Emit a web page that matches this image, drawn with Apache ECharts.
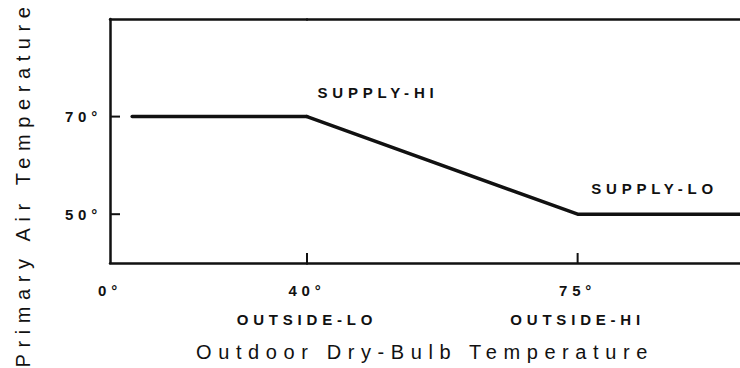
<!DOCTYPE html>
<html>
<head>
<meta charset="utf-8">
<script src="https://cdn.jsdelivr.net/npm/echarts@6/dist/echarts.min.js"></script>
<style>
  html, body { margin: 0; padding: 0; background: #fff; }
  #chart { width: 740px; height: 368px; }
</style>
</head>
<body>
<div id="chart"></div>
<script>
// Reset schedule: primary air supply temperature vs outdoor dry-bulb temperature
const lowRangeTicks = [0, 40];        // outdoor °F, left segment of the axis
const highRangeTicks = [75];          // outdoor °F, right segment of the axis
const supplyTicks = [50, 70];         // primary air °F
const outdoorNames = { 40: 'OUTSIDE-LO', 75: 'OUTSIDE-HI' };

// Supply held at its high limit while outdoor air is cold
const heldHigh = [[4.5, 70], [40, 70]];
// Linear reset between the outdoor limits, then held at the low limit
const resetRamp = [[40, 70], [75, 50], [96, 50]];
const resetNames = ['SUPPLY-HI', 'SUPPLY-LO'];

// Axis extents (the outdoor axis is drawn in two differently scaled segments)
const X_LOW = [0, 40];
const X_HIGH = [40, 96];
const Y_RANGE = [40, 90];

const INK = '#111';
const labelFont = { fontFamily: 'Liberation Sans, Arial, sans-serif', fontWeight: 'bold', fontSize: 15, color: INK };
const axisLineStyle = { show: true, lineStyle: { color: INK, width: 2.5 } };
const TICK_LEN = 10;

function degLabel(v) {
  const n = outdoorNames[v];
  return v + '°' + (n ? '\n' + n : '');
}

// Inward tick marks drawn through the axis scales; upward on the outdoor axis, rightward on the supply axis
function tickSeries(axisIndex, points, upward) {
  return {
    type: 'custom', coordinateSystem: 'cartesian2d',
    xAxisIndex: axisIndex, yAxisIndex: axisIndex, silent: true, clip: false, z: 5,
    data: points,
    renderItem: function (params, api) {
      const p = api.coord([api.value(0), api.value(1)]);
      return {
        type: 'line',
        shape: upward
          ? { x1: p[0], y1: p[1], x2: p[0], y2: p[1] - TICK_LEN }
          : { x1: p[0], y1: p[1], x2: p[0] + TICK_LEN, y2: p[1] },
        style: { stroke: INK, lineWidth: 2 }
      };
    }
  };
}

const chart = echarts.init(document.getElementById('chart'), null, { renderer: 'svg' });

chart.setOption({
  animation: false,
  grid: [
    { left: 110, top: 19, width: 197, bottom: 105 },
    { left: 307, top: 19, right: 0, bottom: 105 }
  ],
  xAxis: [
    {
      gridIndex: 0, type: 'value', min: X_LOW[0], max: X_LOW[1], position: 'bottom',
      axisLine: axisLineStyle, splitLine: { show: false }, axisTick: { show: false },
      axisLabel: Object.assign({ customValues: lowRangeTicks, margin: 13, lineHeight: 29, formatter: degLabel }, labelFont)
    },
    {
      gridIndex: 1, type: 'value', min: X_HIGH[0], max: X_HIGH[1], position: 'bottom',
      axisLine: axisLineStyle, splitLine: { show: false }, axisTick: { show: false },
      axisLabel: Object.assign({ customValues: highRangeTicks, margin: 13, lineHeight: 29, formatter: degLabel }, labelFont)
    },
    {
      gridIndex: 0, type: 'value', min: X_LOW[0], max: X_LOW[1], position: 'top',
      axisLine: axisLineStyle, axisTick: { show: false }, axisLabel: { show: false }, splitLine: { show: false }
    },
    {
      gridIndex: 1, type: 'value', min: X_HIGH[0], max: X_HIGH[1], position: 'top',
      axisLine: axisLineStyle, axisTick: { show: false }, axisLabel: { show: false }, splitLine: { show: false }
    }
  ],
  yAxis: [
    {
      gridIndex: 0, type: 'value', min: Y_RANGE[0], max: Y_RANGE[1],
      axisLine: axisLineStyle, splitLine: { show: false }, axisTick: { show: false },
      axisLabel: Object.assign({ customValues: supplyTicks, margin: 8, formatter: v => v + '°' }, labelFont)
    },
    {
      gridIndex: 1, type: 'value', min: Y_RANGE[0], max: Y_RANGE[1], show: false
    }
  ],
  series: [
    {
      type: 'line', xAxisIndex: 0, yAxisIndex: 0, data: heldHigh,
      symbol: 'none', silent: true,
      lineStyle: { color: INK, width: 3.5, cap: 'round', join: 'round' }
    },
    {
      type: 'line', xAxisIndex: 1, yAxisIndex: 1, silent: true,
      symbol: 'circle', symbolSize: 2, showSymbol: true,
      itemStyle: { color: INK },
      lineStyle: { color: INK, width: 3.5, cap: 'round', join: 'round' },
      data: resetRamp.map((p, i) => i < resetNames.length ? {
        value: p,
        label: Object.assign({
          show: true, position: 'top', formatter: resetNames[i],
          offset: i === 0 ? [71, -11] : [77, -12]
        }, labelFont)
      } : { value: p })
    },
    tickSeries(0, lowRangeTicks.filter(v => v > X_LOW[0]).map(v => [v, Y_RANGE[0]]), true),
    tickSeries(0, supplyTicks.map(v => [X_LOW[0], v]), false),
    tickSeries(1, highRangeTicks.map(v => [v, Y_RANGE[0]]), true)
  ],
  graphic: [
    {
      type: 'text', x: 425, y: 352,
      style: {
        text: 'Outdoor Dry-Bulb Temperature', fill: INK,
        font: '20px "Liberation Sans", Arial, sans-serif',
        textAlign: 'center', textVerticalAlign: 'middle'
      }
    },
    {
      type: 'text', x: 23, y: 184, rotation: Math.PI / 2,
      style: {
        text: 'Primary Air Temperature', fill: INK,
        font: '20px "Liberation Sans", Arial, sans-serif',
        textAlign: 'center', textVerticalAlign: 'middle'
      }
    }
  ]
});

// Wide lettering, as on the drafted original
function spaceLetters() {
  document.querySelectorAll('#chart svg text').forEach(t => {
    const cs = getComputedStyle(t);
    const bold = parseInt(cs.fontWeight, 10) >= 600;
    t.style.letterSpacing = bold ? '4.8px' : '6.6px';
  });
}
chart.on('finished', spaceLetters);
spaceLetters();
</script>
</body>
</html>
